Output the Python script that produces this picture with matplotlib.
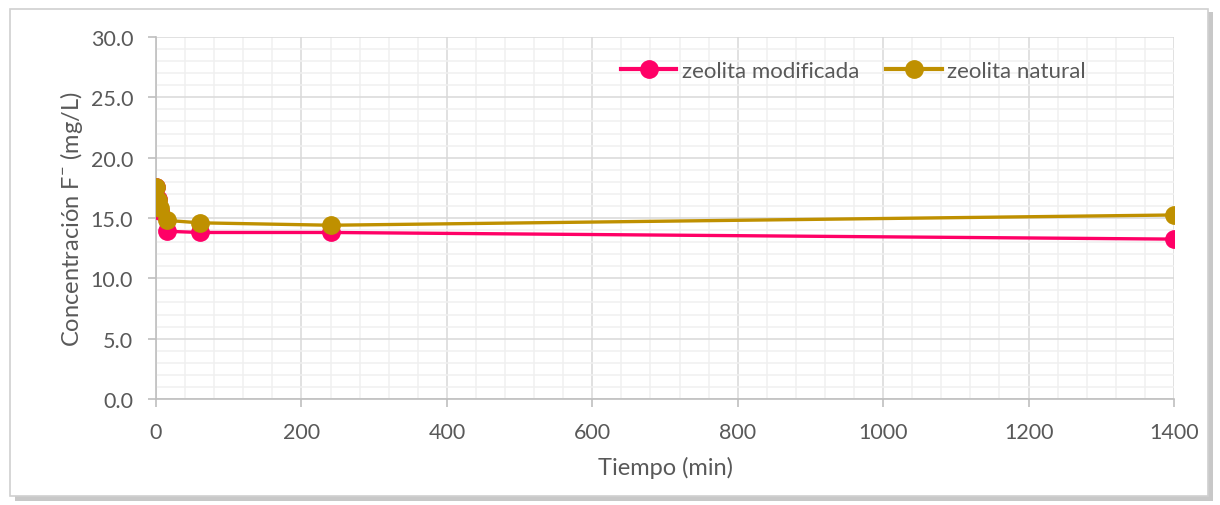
import matplotlib.pyplot as plt
from matplotlib.patches import Rectangle
from matplotlib.ticker import MultipleLocator, FormatStrFormatter

# tiempo de contacto (min) y concentracion de fluoruro residual (mg/L)
tiempo = [0, 3, 5, 15, 60, 240, 1400]
zeolita_modificada = [17.6, 16.6, 15.6, 13.9, 13.8, 13.8, 13.25]
zeolita_natural = [17.6, 16.5, 15.8, 14.8, 14.6, 14.4, 15.25]

plt.rcParams['font.family'] = ['Lato', 'DejaVu Sans']
plt.rcParams['mathtext.fontset'] = 'custom'
plt.rcParams['mathtext.rm'] = 'Lato'

fig = plt.figure(figsize=(12.2, 5.06), dpi=100)
fig.patch.set_facecolor('white')

# marco exterior con sombra
shadow = Rectangle((0.012, 0.008), 0.982, 0.966, transform=fig.transFigure,
                   facecolor='#c8c8c8', edgecolor='none', zorder=-3)
frame = Rectangle((0.008, 0.018), 0.982, 0.962, transform=fig.transFigure,
                  facecolor='white', edgecolor='#d0d0d0', linewidth=1.2, zorder=-2)
fig.patches.extend([shadow, frame])

ax = fig.add_axes([0.1279, 0.2095, 0.8344, 0.7154])
ax.set_facecolor('none')

ax.plot(tiempo, zeolita_modificada, color='#FF0066', linewidth=2.4,
        marker='o', markersize=12.5, label='zeolita modificada', zorder=3)
ax.plot(tiempo, zeolita_natural, color='#BF9000', linewidth=2.4,
        marker='o', markersize=12.5, label='zeolita natural', zorder=4)

ax.set_xlim(0, 1400)
ax.set_ylim(0, 30)
ax.xaxis.set_major_locator(MultipleLocator(200))
ax.xaxis.set_minor_locator(MultipleLocator(40))
ax.yaxis.set_major_locator(MultipleLocator(5))
ax.yaxis.set_minor_locator(MultipleLocator(1))
ax.yaxis.set_major_formatter(FormatStrFormatter('%.1f'))

ax.grid(which='major', color='#d9d9d9', linewidth=1.1, zorder=0)
ax.grid(which='minor', color='#f0f0f0', linewidth=1.1, zorder=0)
ax.set_axisbelow(True)

for side in ['top', 'right']:
    ax.spines[side].set_visible(False)
for side in ['left', 'bottom']:
    ax.spines[side].set_color('#bfbfbf')
    ax.spines[side].set_linewidth(1.2)

ax.tick_params(which='major', length=5.5, width=1.2, color='#bfbfbf',
               labelsize=15.5, labelcolor='#595959', pad=11)
ax.tick_params(which='minor', length=0)

ax.set_xlabel('Tiempo (min)', fontsize=17, color='#595959', labelpad=10)
ax.set_ylabel(r'Concentración F$^{\mathrm{-}}$ (mg/L)', fontsize=17,
              color='#595959', labelpad=4)

leg = ax.legend(loc='upper center', bbox_to_anchor=(0.685, 0.99), ncol=2,
                frameon=False, fontsize=16, handlelength=2.5, columnspacing=1.2,
                handletextpad=0.25)
for t in leg.get_texts():
    t.set_color('#595959')
for h in leg.legend_handles:
    h.set_linewidth(3)

fig.savefig('out.png', dpi=100, facecolor='white')
